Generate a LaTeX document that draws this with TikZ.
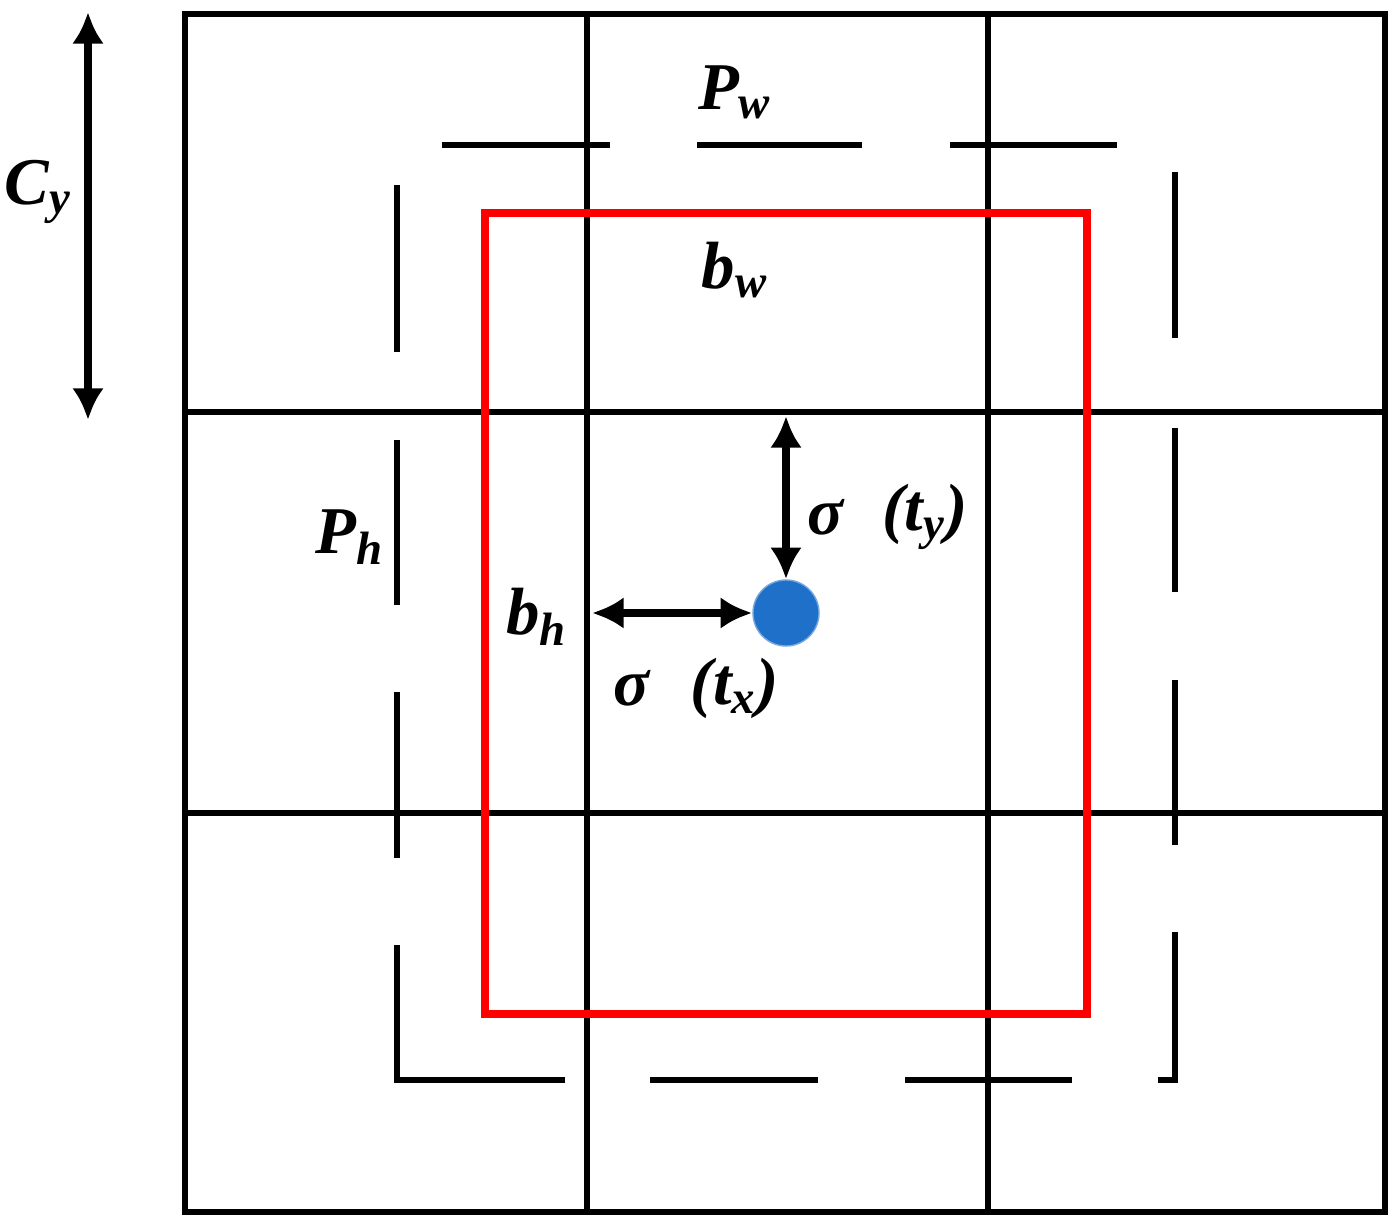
\documentclass[tikz,border=0pt]{standalone}
\usepackage{fontspec}
\setmainfont{Liberation Serif}
\usetikzlibrary{arrows.meta}
\definecolor{dotblue}{RGB}{30,112,200}
\begin{document}
\begin{tikzpicture}[x=0.01cm,y=-0.01cm,
  grid/.style={line width=1.8pt,black},
  dsh/.style={line width=1.7pt,black},
  dbl/.style={line width=2.2pt,{Latex[length=9pt,width=9pt]}-{Latex[length=9pt,width=9pt]}},
  lbl/.style={font=\fontsize{19}{22}\selectfont\bfseries\itshape,inner sep=0pt}]
\useasboundingbox (0,0) rectangle (1397,1228);
% grid
\draw[grid] (185,14) rectangle (1385,1212);
\draw[grid] (587,14) -- (587,1212) (988,14) -- (988,1212);
\draw[grid] (185,412) -- (1385,412) (185,813) -- (1385,813);
% dashed box
\draw[dsh] (442,145)--(610,145) (697,145)--(862,145) (950,145)--(1117,145);
\draw[dsh] (397,185)--(397,352) (397,440)--(397,605) (397,692)--(397,858) (397,945)--(397,1080)--(565,1080);
\draw[dsh] (650,1080)--(818,1080) (905,1080)--(1072,1080) (1158,1080)--(1175,1080)--(1175,932);
\draw[dsh] (1175,172)--(1175,338) (1175,428)--(1175,592) (1175,680)--(1175,845);
% red box
\draw[red,line width=2.2pt] (485,213) rectangle (1087,1014);
% dot
\node[circle,fill=dotblue,draw=dotblue!60,minimum size=0.66cm,inner sep=0pt] (dot) at (786,613) {};
\coordinate (ytop) at (786,416);
\coordinate (xl) at (592,613);
\coordinate (ct) at (88,12);
\coordinate (cb) at (88,420);
\draw[dbl] (ct) -- (cb);
\draw[dbl] (ytop) -- (dot.north);
\draw[dbl] (xl) -- (dot.west);
% labels
\node[lbl] (pw) at (735,92) {P\textsubscript{w}};
\node[lbl] (bw) at (735,270) {b\textsubscript{w}};
\node[lbl] (cy) at (38,192) {C\textsubscript{y}};
\node[lbl] (ph) at (350,537) {P\textsubscript{h}};
\node[lbl] (bh) at (537,617) {b\textsubscript{h}};
\node[lbl] (sy) at (825,517) {σ};
\node[lbl] (ty) at (925,517) {(t\textsubscript{y})};
\node[lbl] (sx) at (632,688) {σ};
\node[lbl] (tx) at (735,688) {(t\textsubscript{x})};
\end{tikzpicture}
\end{document}
